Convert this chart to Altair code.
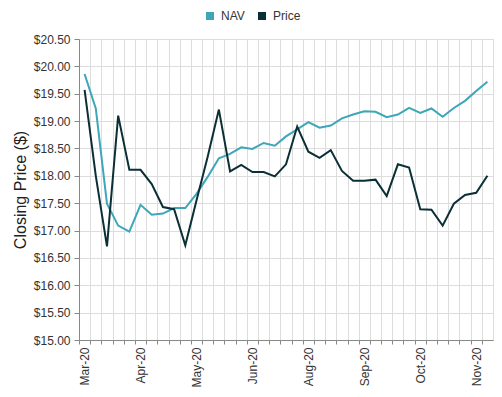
import altair as alt
import pandas as pd

weeks = list(range(37))
nav = [19.86, 19.23, 17.49, 17.09, 16.98, 17.47, 17.29, 17.31, 17.41, 17.41,
       17.67, 17.98, 18.32, 18.40, 18.52, 18.49, 18.60, 18.55, 18.72, 18.85,
       18.98, 18.88, 18.92, 19.05, 19.12, 19.18, 19.17, 19.07, 19.12, 19.24,
       19.15, 19.23, 19.08, 19.24, 19.37, 19.55, 19.72]
price = [19.57, 18.00, 16.71, 19.10, 18.11, 18.11, 17.85, 17.43, 17.39, 16.73,
         17.55, 18.35, 19.21, 18.08, 18.20, 18.07, 18.07, 17.99, 18.21, 18.90,
         18.44, 18.33, 18.47, 18.09, 17.91, 17.91, 17.93, 17.63, 18.21, 18.15,
         17.39, 17.38, 17.09, 17.49, 17.65, 17.69, 18.00]
tick_labels = ["Mar-20", "Apr-20", "May-20", "Jun-20", "Aug-20", "Sep-20", "Oct-20", "Nov-20"]
label_every = 5
series_names = ["NAV", "Price"]
colors = ["#3da6b8", "#0b2f36"]
y_ticks = [15 + 0.5 * k for k in range(12)]

df = pd.DataFrame({
    "week": weeks + weeks,
    "series": ["NAV"] * len(weeks) + ["Price"] * len(weeks),
    "value": nav + price,
})

# band boundaries (the last one is drawn by the view frame)
boundaries = [w - 0.5 for w in weeks]
labels_js = "[" + ",".join("'" + t + "'" for t in tick_labels) + "]"
label_expr = (
    f"((datum.value + 0.5) % {label_every} == 0 && (datum.value + 0.5) / {label_every} < {len(tick_labels)})"
    f" ? {labels_js}[(datum.value + 0.5) / {label_every}] : ''"
)

chart = alt.Chart(df).mark_line(strokeWidth=2).encode(
    x=alt.X(
        "week:Q",
        scale=alt.Scale(domain=[weeks[0] - 0.5, weeks[-1] + 0.5], nice=False, zero=False),
        axis=alt.Axis(
            values=boundaries,
            labelExpr=label_expr,
            labelAngle=-90,
            labelOffset=5.6,
            labelOverlap=False,
            labelFlush=False,
            labelPadding=3,
            title=None,
            grid=True,
            tickSize=4,
        ),
    ),
    y=alt.Y(
        "value:Q",
        scale=alt.Scale(domain=[15, 20.5], nice=False, zero=False),
        axis=alt.Axis(values=y_ticks, format="$.2f", title="Closing Price ($)",
                      grid=True, tickSize=5, labelPadding=4, titlePadding=5),
    ),
    color=alt.Color(
        "series:N",
        scale=alt.Scale(domain=series_names, range=colors),
        legend=alt.Legend(
            title=None, orient="none", direction="horizontal",
            legendX=125, legendY=-29, symbolType="square", symbolSize=16,
            symbolStrokeWidth=4, labelFontSize=12, columnPadding=7,
            labelOffset=5,
        ),
    ),
).properties(
    width=486, height=380,
    autosize=alt.AutoSizeParams(type="fit", contains="padding"),
    padding={"left": 4, "top": 25, "right": 1, "bottom": 0},
).configure_view(
    stroke="#dddddd"
).configure_axis(
    labelFont="Liberation Sans", titleFont="Liberation Sans",
    labelFontSize=12, labelColor="#333333",
    titleFontSize=16, titleFontWeight="normal", titleColor="#222222",
    gridColor="#dddddd", domainColor="#888888", tickColor="#888888",
).configure_legend(
    labelFont="Liberation Sans", labelColor="#333333",
)

chart.save("out.html", embed_options={"renderer": "svg", "actions": False})
